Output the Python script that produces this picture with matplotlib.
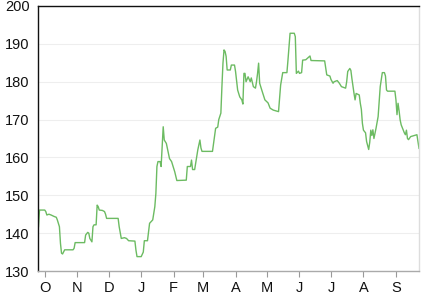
import matplotlib
matplotlib.use("Agg")
import matplotlib.pyplot as plt
import matplotlib.dates as mdates
import pandas as pd

# price series (step-like daily values)
dates = [
    "2014-09-25", "2014-09-26", "2014-10-01", "2014-10-02", "2014-10-03", "2014-10-05",
    "2014-10-07", "2014-10-10", "2014-10-12", "2014-10-13", "2014-10-15", "2014-10-16",
    "2014-10-17", "2014-10-18", "2014-10-20", "2014-10-28", "2014-10-29", "2014-10-30",
    "2014-11-08", "2014-11-09", "2014-11-11", "2014-11-12", "2014-11-13", "2014-11-15",
    "2014-11-16", "2014-11-17", "2014-11-19", "2014-11-20", "2014-11-21", "2014-11-22",
    "2014-11-25", "2014-11-27", "2014-11-28", "2014-11-29", "2014-12-10", "2014-12-11",
    "2014-12-13", "2014-12-16", "2014-12-18", "2014-12-20", "2014-12-26", "2014-12-27",
    "2014-12-28", "2015-01-01", "2015-01-03", "2015-01-04", "2015-01-07", "2015-01-09",
    "2015-01-12", "2015-01-14", "2015-01-15", "2015-01-16", "2015-01-17", "2015-01-19",
    "2015-01-20", "2015-01-22", "2015-01-23", "2015-01-25", "2015-01-28", "2015-01-30",
    "2015-01-31", "2015-02-02", "2015-02-04", "2015-02-13", "2015-02-14", "2015-02-17",
    "2015-02-18", "2015-02-19", "2015-02-21", "2015-02-24", "2015-02-26", "2015-02-27",
    "2015-02-28", "2015-03-10", "2015-03-11", "2015-03-13", "2015-03-15", "2015-03-16",
    "2015-03-18", "2015-03-19", "2015-03-20", "2015-03-21", "2015-03-22", "2015-03-23",
    "2015-03-24", "2015-03-27", "2015-03-28", "2015-03-31", "2015-04-01", "2015-04-03",
    "2015-04-05", "2015-04-07", "2015-04-08", "2015-04-09", "2015-04-10", "2015-04-11",
    "2015-04-13", "2015-04-15", "2015-04-16", "2015-04-18", "2015-04-20", "2015-04-21",
    "2015-04-22", "2015-04-23", "2015-04-24", "2015-04-26", "2015-04-29", "2015-05-02",
    "2015-05-04", "2015-05-07", "2015-05-12", "2015-05-13", "2015-05-14", "2015-05-16",
    "2015-05-20", "2015-05-21", "2015-05-23", "2015-05-27", "2015-05-28", "2015-05-29",
    "2015-05-31", "2015-06-01", "2015-06-03", "2015-06-04", "2015-06-07", "2015-06-11",
    "2015-06-12", "2015-06-25", "2015-06-27", "2015-06-30", "2015-07-01", "2015-07-03",
    "2015-07-04", "2015-07-07", "2015-07-09", "2015-07-11", "2015-07-15", "2015-07-16",
    "2015-07-17", "2015-07-19", "2015-07-20", "2015-07-21", "2015-07-23", "2015-07-24",
    "2015-07-25", "2015-07-28", "2015-07-29", "2015-07-30", "2015-07-31", "2015-08-01",
    "2015-08-03", "2015-08-04", "2015-08-06", "2015-08-07", "2015-08-08", "2015-08-09",
    "2015-08-10", "2015-08-11", "2015-08-13", "2015-08-15", "2015-08-16", "2015-08-17",
    "2015-08-19", "2015-08-21", "2015-08-22", "2015-08-23", "2015-08-24", "2015-08-31",
    "2015-09-01", "2015-09-02", "2015-09-03", "2015-09-04", "2015-09-05", "2015-09-06",
    "2015-09-08", "2015-09-09", "2015-09-10", "2015-09-11", "2015-09-12", "2015-09-13",
    "2015-09-15", "2015-09-21", "2015-09-22", "2015-09-23",
]
values = [
    141.7, 146.1, 146.1, 145.7, 144.8, 145.0,
    144.8, 144.4, 144.2, 143.5, 141.7, 137.3,
    134.7, 134.5, 135.6, 135.6, 136.0, 137.5,
    137.5, 139.5, 140.2, 140.0, 138.6, 137.7,
    141.7, 142.2, 142.2, 147.4, 147.0, 146.1,
    146.0, 145.7, 145.0, 143.9, 143.9, 141.7,
    138.6, 138.8, 138.6, 138.0, 137.9, 135.5,
    133.8, 133.8, 135.0, 138.0, 138.0, 142.6,
    143.5, 147.0, 150.5, 157.6, 158.9, 158.9,
    157.6, 168.1, 164.6, 163.7, 159.7, 158.9,
    158.0, 156.2, 153.9, 154.0, 157.6, 157.6,
    159.3, 156.8, 156.8, 162.0, 164.6, 162.5,
    161.6, 161.6, 163.7, 167.7, 168.0, 170.0,
    171.7, 178.7, 184.9, 188.4, 188.0, 186.7,
    183.1, 183.1, 184.4, 184.4, 182.7, 177.8,
    176.0, 175.2, 174.1, 182.2, 182.2, 180.0,
    181.3, 180.0, 181.0, 178.7, 178.3, 180.0,
    182.2, 184.9, 179.6, 177.8, 175.2, 174.4,
    173.0, 172.5, 172.1, 175.6, 179.1, 182.4,
    182.4, 185.7, 192.8, 192.8, 191.9, 182.2,
    182.8, 182.2, 182.4, 185.7, 185.8, 186.8,
    185.6, 185.5, 181.8, 181.5, 180.6, 179.6,
    180.0, 180.3, 179.6, 178.7, 178.3, 180.0,
    182.7, 183.5, 183.0, 180.8, 176.9, 175.2,
    176.9, 176.5, 174.3, 172.7, 169.0, 167.2,
    166.5, 164.2, 162.1, 164.0, 167.2, 165.8,
    167.3, 165.0, 167.7, 170.8, 174.7, 178.7,
    182.4, 182.4, 181.5, 177.8, 177.5, 177.5,
    175.2, 171.3, 174.3, 172.3, 169.9, 168.6,
    167.2, 166.5, 166.0, 167.2, 165.0, 164.7,
    165.5, 166.0, 164.2, 162.4,
]
y_ticks = [130, 140, 150, 160, 170, 180, 190, 200]

plt.rcParams['font.family'] = ['Liberation Sans', 'DejaVu Sans']

fig = plt.figure(figsize=(4.33, 2.94), dpi=100)
ax = fig.add_axes([0.0878, 0.0782, 0.8799, 0.9014])

x = pd.to_datetime(dates)
ax.plot(x, values, color='#6cbb62', linewidth=1.0)

# axes limits
ax.set_xlim(pd.Timestamp("2014-09-24 14:00"), pd.Timestamp("2015-09-23"))
ax.set_ylim(130, 200)

# ticks, month initials on x
ax.set_yticks(y_ticks)
ax.xaxis.set_major_locator(mdates.MonthLocator())
ax.xaxis.set_major_formatter(mdates.DateFormatter('%b'))
fig.canvas.draw()
ax.set_xticklabels([t.get_text()[0] for t in ax.get_xticklabels()])

ax.tick_params(axis='y', length=0, pad=6, labelsize=10.5, colors='#111111')
ax.tick_params(axis='x', length=4, width=0.8, color='#999999', pad=3,
               labelsize=10.5, labelcolor='#111111')

# grid
ax.grid(axis='y', color='#eeeeee', linewidth=0.8)
ax.set_axisbelow(True)

# spines
ax.spines['left'].set_color('#111111')
ax.spines['top'].set_color('#111111')
ax.spines['right'].set_color('#dddddd')
ax.spines['bottom'].set_color('#aaaaaa')
for s in ax.spines.values():
    s.set_linewidth(1.0)

fig.savefig('out.png', dpi=100)
